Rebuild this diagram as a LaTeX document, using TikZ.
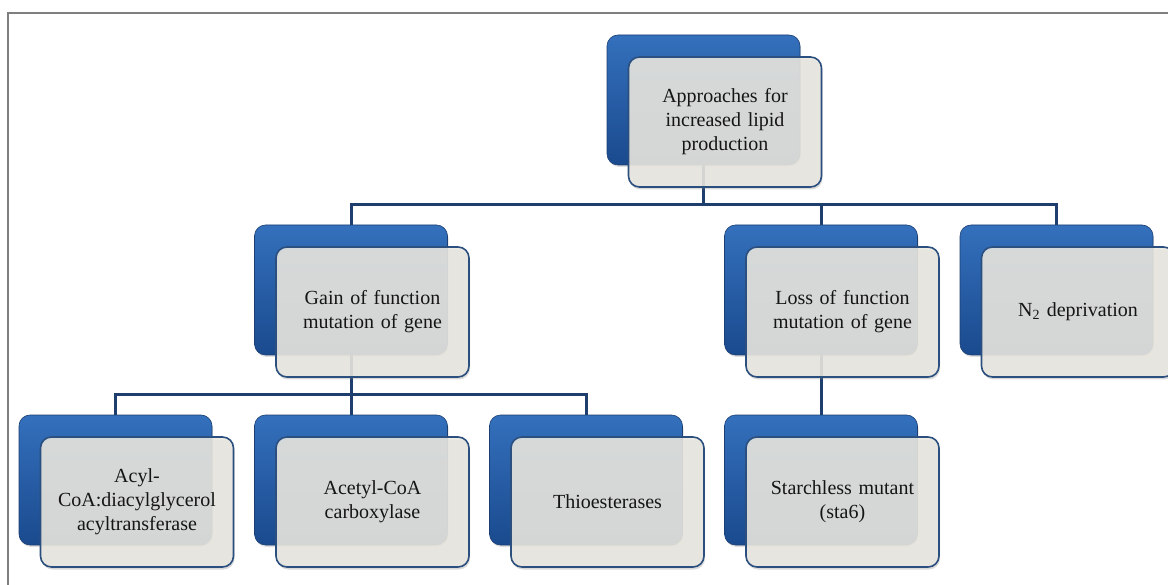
\documentclass[tikz,border=0pt]{standalone}
\usepackage{fontspec}
\setmainfont{Liberation Serif}
\usetikzlibrary{shadows,calc,backgrounds}
\definecolor{bluetop}{HTML}{3470BC}
\definecolor{bluemid}{HTML}{1F55A0}
\definecolor{bluebot}{HTML}{1A4A8E}
\definecolor{blueedge}{HTML}{1B3F72}
\definecolor{cardfill}{HTML}{EAE8E0}
\definecolor{cardedge}{HTML}{2B4F7E}
\definecolor{connc}{HTML}{1E3F6D}
\definecolor{framec}{HTML}{7F7F7F}
\definecolor{textc}{HTML}{151515}
\tikzset{
  backbox/.style={rectangle, rounded corners=11pt, minimum width=193pt, minimum height=130pt,
    inner sep=0pt, top color=bluetop, middle color=bluemid, bottom color=bluebot, draw=blueedge, line width=0.6pt,
    drop shadow={opacity=0.25, shadow xshift=1pt, shadow yshift=-2pt}},
  card/.style={rectangle, rounded corners=11pt, minimum width=193pt, minimum height=130pt,
    inner sep=4pt, fill=cardfill, fill opacity=0.88, text opacity=1, draw=cardedge, line width=1.6pt,
    draw opacity=1, align=center, text width=180pt, text=textc,
    font=\fontsize{20}{24}\selectfont,
    drop shadow={opacity=0.3, shadow xshift=1pt, shadow yshift=-2.5pt}},
  conn/.style={draw=connc, line width=3pt}
}
\begin{document}
\begin{tikzpicture}[x=1pt,y=-1pt]
\useasboundingbox (0,0) rectangle (1168,585);
\clip (0,0) rectangle (1168,585);
% frame
\draw[framec, line width=2pt] (8,585) -- (8,13) -- (1168,13);
% blue back boxes
\node[backbox] (btop) at (703.5,100) {};
\node[backbox] (bgain) at (351,290) {};
\node[backbox] (bloss) at (821,290) {};
\node[backbox] (bn2) at (1056.5,290) {};
\node[backbox] (bacyl) at (115.5,480) {};
\node[backbox] (bacet) at (351,480) {};
\node[backbox] (bthio) at (586,480) {};
\node[backbox] (bstar) at (821,480) {};
\coordinate (j1) at (703.5,205);
\coordinate (j2) at (351,395);
% connectors beneath boxes
\begin{scope}[on background layer]
\draw[conn] (btop.south) -- (j1);
\draw[conn] (j1) -| (bgain.north);
\draw[conn] (j1) -| (bloss.north);
\draw[conn] (j1) -| (bn2.north);
\draw[conn] (bgain.south) -- (j2);
\draw[conn] (j2) -| (bacyl.north);
\draw[conn] (j2) -| (bacet.north);
\draw[conn] (j2) -| (bthio.north);
\draw[conn] (bloss.south) -- (bstar.north);
\end{scope}
% cards
\node[card] (top) at ($(btop)+(21.5,22)$) {Approaches for\\increased lipid\\production};
\node[card] (gain) at ($(bgain)+(21.5,22)$) {Gain of function\\mutation of gene};
\node[card] (loss) at ($(bloss)+(21.5,22)$) {Loss of function\\mutation of gene};
\node[card] (n2) at ($(bn2)+(21.5,22)$) {N\textsubscript{2} deprivation};
\node[card] (acyl) at ($(bacyl)+(21.5,22)$) {Acyl-\\CoA:diacylglycerol\\acyltransferase};
\node[card] (acet) at ($(bacet)+(21.5,22)$) {Acetyl-CoA\\carboxylase};
\node[card] (thio) at ($(bthio)+(21.5,22)$) {Thioesterases};
\node[card] (star) at ($(bstar)+(21.5,22)$) {Starchless mutant\\(sta6)};
\end{tikzpicture}
\end{document}
